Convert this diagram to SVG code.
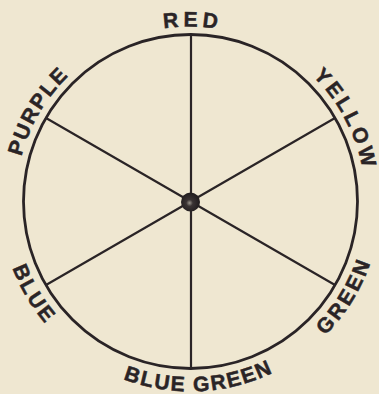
<svg xmlns="http://www.w3.org/2000/svg" xmlns:xlink="http://www.w3.org/1999/xlink" width="379" height="394" viewBox="0 0 379 394">
  <style>
    .ink { stroke: #2a2426; fill: none; stroke-linecap: round; }
    .rim { stroke-width: 2.8; }
    .spoke { stroke-width: 2.2; }
    .lbl { font-family: "Liberation Sans", Arial, sans-serif; font-weight: bold; font-size: 21px; fill: #2a2426; stroke: #2a2426; stroke-width: 0.5; }
  </style>
  <defs>
    <path id="topArc" d="M 15.5,201.5 A 175 175 0 0 1 365.5,201.5"/>
    <path id="botArc" d="M 0.5,201.5 A 190 190 0 0 0 380.5,201.5"/>
    <radialGradient id="hub" cx="0.45" cy="0.55" r="0.5">
      <stop offset="0" stop-color="#9a948c"/>
      <stop offset="0.35" stop-color="#3a3334"/>
      <stop offset="1" stop-color="#231e20"/>
    </radialGradient>
  </defs>
  <rect width="379" height="394" fill="#efe7d1"/>
  <g id="wheel">
    <circle class="ink rim" cx="190.5" cy="201.5" r="167"/>
  </g>
  <g id="connectors">
    <line class="ink spoke" x1="191" y1="34.5" x2="191" y2="368.5"/>
    <line class="ink spoke" x1="46" y1="118" x2="335" y2="285"/>
    <line class="ink spoke" x1="335" y1="118" x2="46" y2="285"/>
  </g>
  <g id="hub-node">
    <circle cx="190.5" cy="202" r="9.5" fill="url(#hub)"/>
  </g>
  <g id="label-red">
    <text class="lbl" text-anchor="middle" letter-spacing="4.5"><textPath xlink:href="#topArc" href="#topArc" startOffset="50.4%">RED</textPath></text>
  </g>
  <g id="label-purple">
    <text class="lbl" text-anchor="middle" letter-spacing="1.8"><textPath xlink:href="#topArc" href="#topArc" startOffset="17%">PURPLE</textPath></text>
  </g>
  <g id="label-yellow">
    <text class="lbl" text-anchor="middle" letter-spacing="3.2"><textPath xlink:href="#topArc" href="#topArc" startOffset="84.5%">YELLOW</textPath></text>
  </g>
  <g id="label-blue">
    <text class="lbl" text-anchor="middle" letter-spacing="2.5"><textPath xlink:href="#botArc" href="#botArc" startOffset="17%">BLUE</textPath></text>
  </g>
  <g id="label-blue-green">
    <text class="lbl" text-anchor="middle" letter-spacing="1.8"><textPath xlink:href="#botArc" href="#botArc" startOffset="51.5%">BLUE GREEN</textPath></text>
  </g>
  <g id="label-green">
    <text class="lbl" text-anchor="middle" letter-spacing="2.8"><textPath xlink:href="#botArc" href="#botArc" startOffset="82.5%">GREEN</textPath></text>
  </g>
</svg>
